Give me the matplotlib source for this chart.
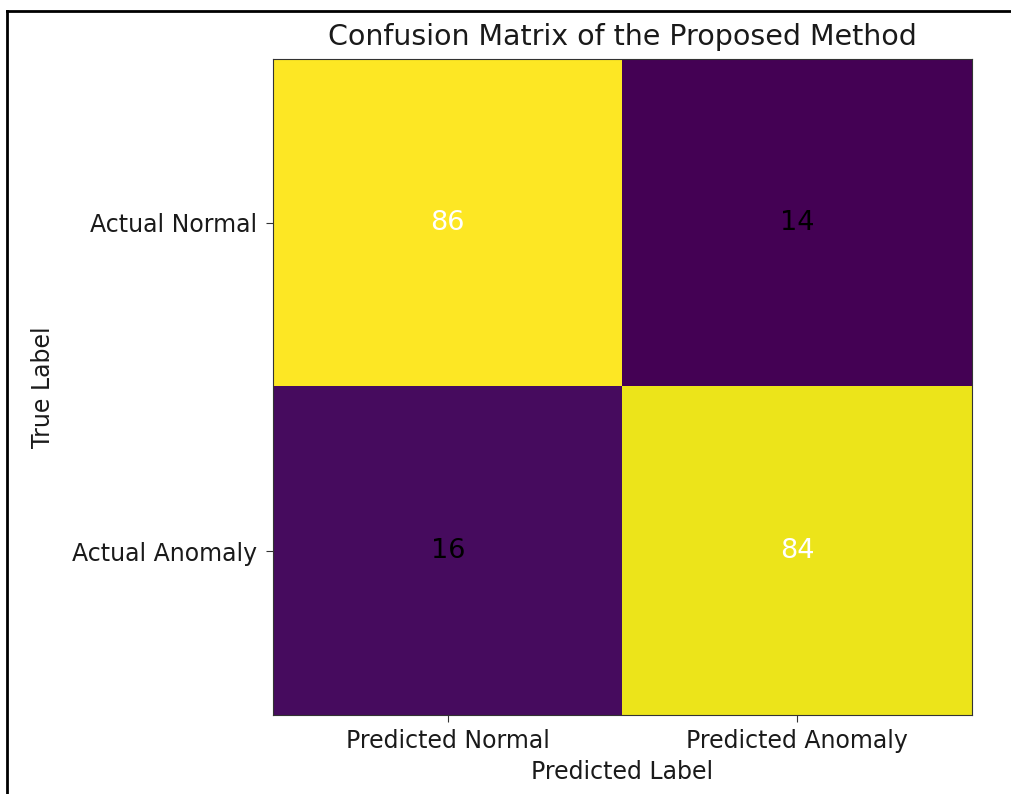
import numpy as np
import matplotlib.pyplot as plt

# confusion matrix values
classes_true = ["Actual Normal", "Actual Anomaly"]
classes_pred = ["Predicted Normal", "Predicted Anomaly"]
cm = np.array([[86, 14],
               [16, 84]])

txt = '#1a1a1a'
fig = plt.figure(figsize=(10.11, 7.94), dpi=100)
ax = fig.add_axes([273/1011, 1-715/794, (972-273)/1011, (715-59)/794])
ax.imshow(cm, cmap='viridis', aspect='auto')

for i in range(cm.shape[0]):
    for j in range(cm.shape[1]):
        # light text on bright cells, dark text on dark cells
        col = 'white' if cm[i, j] > cm.max() / 2 else 'black'
        ax.text(j, i, str(cm[i, j]), ha='center', va='center', color=col, fontsize=19.5)

ax.set_xticks(range(len(classes_pred)))
ax.set_xticklabels(classes_pred, fontsize=17, color=txt)
ax.set_yticks(range(len(classes_true)))
ax.set_yticklabels(classes_true, fontsize=17, color=txt)
ax.tick_params(length=5, color='#333333')
ax.tick_params(axis='y', pad=6.5)
ax.tick_params(axis='x', pad=5)
for s in ax.spines.values():
    s.set_color('#333333')
ax.set_xlabel("Predicted Label", fontsize=17, labelpad=5, color=txt)
ax.set_ylabel("True Label", fontsize=17, labelpad=12, color=txt)
ax.set_title("Confusion Matrix of the Proposed Method", fontsize=20.5, color=txt, pad=10)

# screenshot frame
fig.add_artist(plt.Line2D([7/1011, 7/1011], [0, 1-11/794], transform=fig.transFigure, color='black', lw=2))
fig.add_artist(plt.Line2D([7/1011, 1], [1-11/794, 1-11/794], transform=fig.transFigure, color='black', lw=2))

fig.savefig("out.png", dpi=100)
